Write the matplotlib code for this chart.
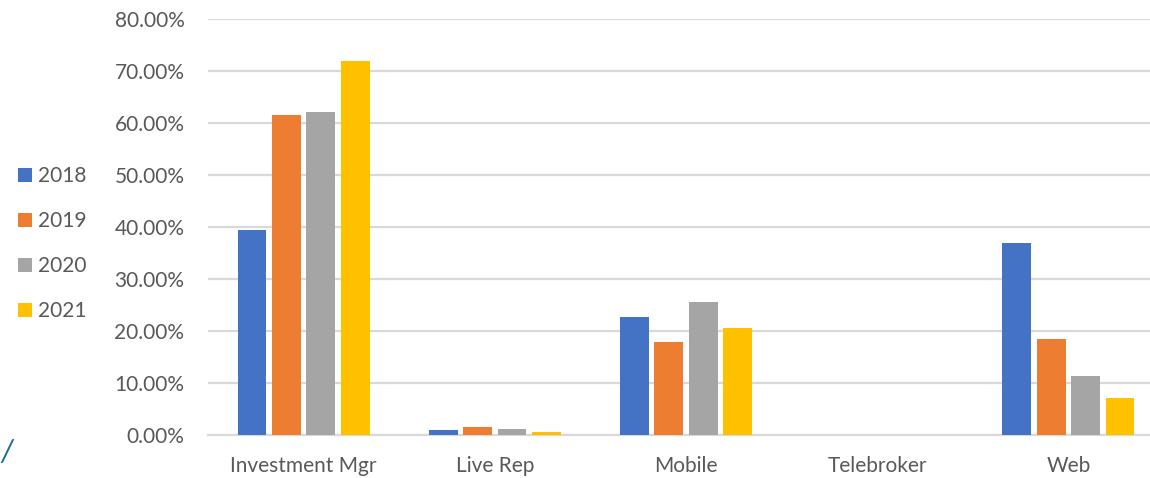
import matplotlib
matplotlib.use('Agg')
import matplotlib.pyplot as plt
import numpy as np

# data (shares, in %)
categories = ['Investment Mgr', 'Live Rep', 'Mobile', 'Telebroker', 'Web']
years = ['2018', '2019', '2020', '2021']
v2018 = [39.4, 1.0, 22.6, 0.0, 36.9]
v2019 = [61.5, 1.5, 17.9, 0.0, 18.5]
v2020 = [62.1, 1.1, 25.6, 0.0, 11.3]
v2021 = [71.9, 0.5, 20.5, 0.0, 7.1]
colors = ['#4472C4', '#ED7D31', '#A5A5A5', '#FFC000']

plt.rcParams['font.family'] = ['Lato', 'DejaVu Sans']
txt = '#595959'

fig = plt.figure(figsize=(11.5, 4.78), dpi=100)
ax = fig.add_axes([208/1150, 43/478, (1164-208)/1150, 416/478])

x = np.arange(len(categories))
step = 0.18
w = 0.15
series = [v2018, v2019, v2020, v2021]
for k, (vals, c, lab) in enumerate(zip(series, colors, years)):
    ax.bar(x + (k - 1.5)*step, vals, width=w, color=c, label=lab, zorder=3)

ax.set_xlim(-0.5, len(categories) - 0.5)
ax.set_ylim(0, 80)
ax.set_yticks(np.arange(0, 81, 10))
ax.set_yticklabels(['%.2f%%' % t for t in np.arange(0, 81, 10)])
ax.set_xticks(x)
ax.set_xticklabels(categories)
ax.grid(axis='y', color='#D9D9D9', linewidth=1.6, zorder=0)
ax.set_axisbelow(True)
for s in ax.spines.values():
    s.set_visible(False)
ax.tick_params(axis='both', length=0, labelsize=15, colors=txt)
ax.tick_params(axis='y', pad=17)
ax.tick_params(axis='x', pad=15)
ax.axhline(0, color='#D9D9D9', linewidth=1.6, zorder=1, clip_on=False)

fig.legend(loc='center left', bbox_to_anchor=(18/1150, 0.49), frameon=False,
           fontsize=15, labelcolor=txt, handlelength=0.68, handleheight=0.68,
           handletextpad=0.3, labelspacing=1.2, borderpad=0, borderaxespad=0)

fig.text(0.0, 0.035, '/', color='#1B6E8C', fontsize=22, style='italic')

fig.savefig('out.png', dpi=100)
